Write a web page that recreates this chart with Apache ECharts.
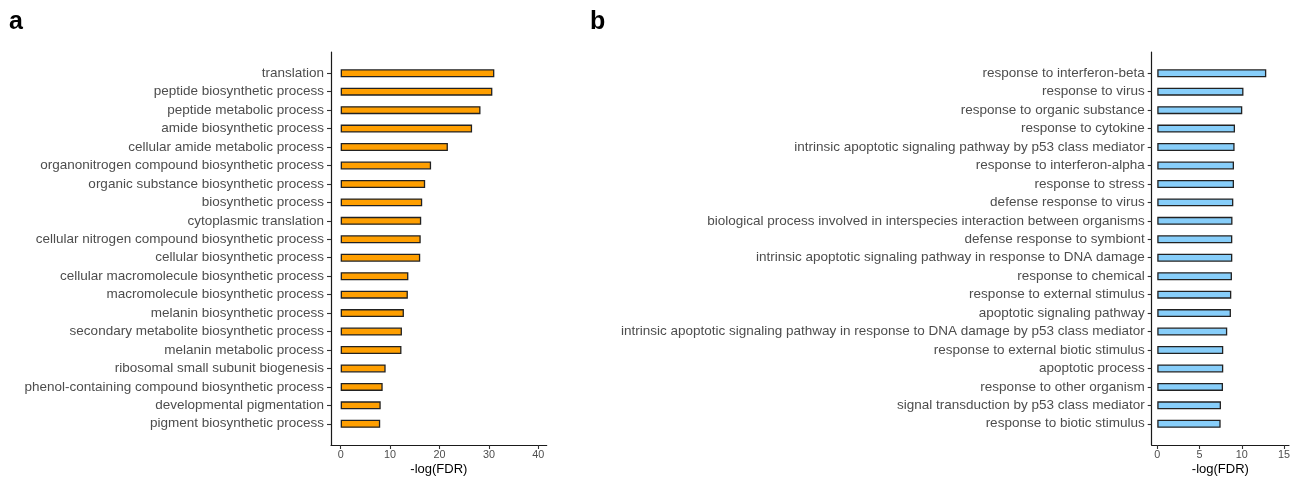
<!DOCTYPE html>
<html>
<head>
<meta charset="utf-8">
<script src="https://cdn.jsdelivr.net/npm/echarts@6/dist/echarts.min.js"></script>
<style>
  html, body { margin: 0; padding: 0; background: #fff; }
  #chart { width: 1298px; height: 477px; }
</style>
</head>
<body>
<div id="chart"></div>
<script>
// GO enrichment terms, top to bottom
const termsA = [
  'translation',
  'peptide biosynthetic process',
  'peptide metabolic process',
  'amide biosynthetic process',
  'cellular amide metabolic process',
  'organonitrogen compound biosynthetic process',
  'organic substance biosynthetic process',
  'biosynthetic process',
  'cytoplasmic translation',
  'cellular nitrogen compound biosynthetic process',
  'cellular biosynthetic process',
  'cellular macromolecule biosynthetic process',
  'macromolecule biosynthetic process',
  'melanin biosynthetic process',
  'secondary metabolite biosynthetic process',
  'melanin metabolic process',
  'ribosomal small subunit biogenesis',
  'phenol-containing compound biosynthetic process',
  'developmental pigmentation',
  'pigment biosynthetic process'
];
const scoresA = [31.1, 30.7, 28.3, 26.6, 21.7, 18.3, 17.1, 16.5, 16.3, 16.2,
                 16.1, 13.7, 13.6, 12.8, 12.4, 12.3, 9.1, 8.5, 8.1, 8.0];

const termsB = [
  'response to interferon-beta',
  'response to virus',
  'response to organic substance',
  'response to cytokine',
  'intrinsic apoptotic signaling pathway by p53 class mediator',
  'response to interferon-alpha',
  'response to stress',
  'defense response to virus',
  'biological process involved in interspecies interaction between organisms',
  'defense response to symbiont',
  'intrinsic apoptotic signaling pathway in response to DNA damage',
  'response to chemical',
  'response to external stimulus',
  'apoptotic signaling pathway',
  'intrinsic apoptotic signaling pathway in response to DNA damage by p53 class mediator',
  'response to external biotic stimulus',
  'apoptotic process',
  'response to other organism',
  'signal transduction by p53 class mediator',
  'response to biotic stimulus'
];
const scoresB = [12.9, 10.2, 10.06, 9.2, 9.15, 9.08, 9.08, 9.0, 8.9, 8.88,
                 8.88, 8.84, 8.76, 8.72, 8.28, 7.81, 7.81, 7.78, 7.54, 7.5];

const ticksA = [0, 10, 20, 30, 40];
const ticksB = [0, 5, 10, 15];
const rangeA = [-1.96, 41.7];
const rangeB = [-0.66, 15.59];

const FONT = '"Liberation Sans", Arial, sans-serif';
const GREY = '#4D4D4D';
const INK = '#1a1a1a';

// Each panel uses two grids: an outer frame carrying the axis lines and the
// x scale, and an inner band area where the categories and bars live.
function panel(idx, left, right, terms, scores, ticks, range, color) {
  const frame = { left: left, right: right, top: 52, bottom: 477 - 445, outerBoundsMode: 'none', containLabel: false };
  const bands = { left: left, right: right, top: 64, bottom: 477 - 433, outerBoundsMode: 'none', containLabel: false };
  const g0 = idx * 2, g1 = idx * 2 + 1;
  const xAxes = [
    {
      gridIndex: g0, type: 'value', min: range[0], max: range[1],
      name: '-log(FDR)', nameLocation: 'middle', nameGap: 18, nameMoveOverlap: false,
      nameTextStyle: { color: '#000', fontFamily: FONT, fontSize: 13, verticalAlign: 'top' },
      axisLine: { show: true, onZero: false, lineStyle: { color: INK, width: 1.2 } },
      axisTick: { show: true, length: 4, customValues: ticks, lineStyle: { color: '#333', width: 1.1 } },
      axisLabel: { show: true, margin: 5, customValues: ticks, color: GREY, fontFamily: FONT, fontSize: 10.8 },
      splitLine: { show: false }
    },
    { gridIndex: g1, type: 'value', min: range[0], max: range[1], show: false }
  ];
  const yAxes = [
    {
      gridIndex: g0, type: 'value', min: 0, max: 1,
      axisLine: { show: true, onZero: false, lineStyle: { color: INK, width: 1.2 } },
      axisTick: { show: false }, axisLabel: { show: false }, splitLine: { show: false }
    },
    {
      gridIndex: g1, type: 'category', data: terms, inverse: true,
      axisLine: { show: false, onZero: false },
      axisTick: { show: true, alignWithLabel: true, length: 4, lineStyle: { color: '#333', width: 1.1 } },
      axisLabel: { margin: 7, color: GREY, fontFamily: FONT, fontSize: 13.5 },
      splitLine: { show: false }
    }
  ];
  const series = {
    type: 'bar', xAxisIndex: idx * 2 + 1, yAxisIndex: idx * 2 + 1,
    data: scores, barWidth: 8, silent: true,
    itemStyle: { color: color, borderColor: '#222', borderWidth: 1.3 }
  };
  return { grids: [frame, bands], xAxes, yAxes, series };
}

const pa = panel(0, 331, 1298 - 546.7, termsA, scoresA, ticksA, rangeA, '#FF9F00');
const pb = panel(1, 1151.7, 1298 - 1289, termsB, scoresB, ticksB, rangeB, '#87CEFA');

const chart = echarts.init(document.getElementById('chart'), null, { renderer: 'canvas' });
chart.setOption({
  animation: false,
  backgroundColor: '#fff',
  grid: pa.grids.concat(pb.grids),
  xAxis: pa.xAxes.concat(pb.xAxes),
  yAxis: pa.yAxes.concat(pb.yAxes),
  series: [pa.series, pb.series],
  graphic: [
    { type: 'text', left: 9, top: 10, style: { text: 'a', font: 'bold 25px ' + FONT, fill: '#000' } },
    { type: 'text', left: 590, top: 10, style: { text: 'b', font: 'bold 25px ' + FONT, fill: '#000' } }
  ]
});
</script>
</body>
</html>
